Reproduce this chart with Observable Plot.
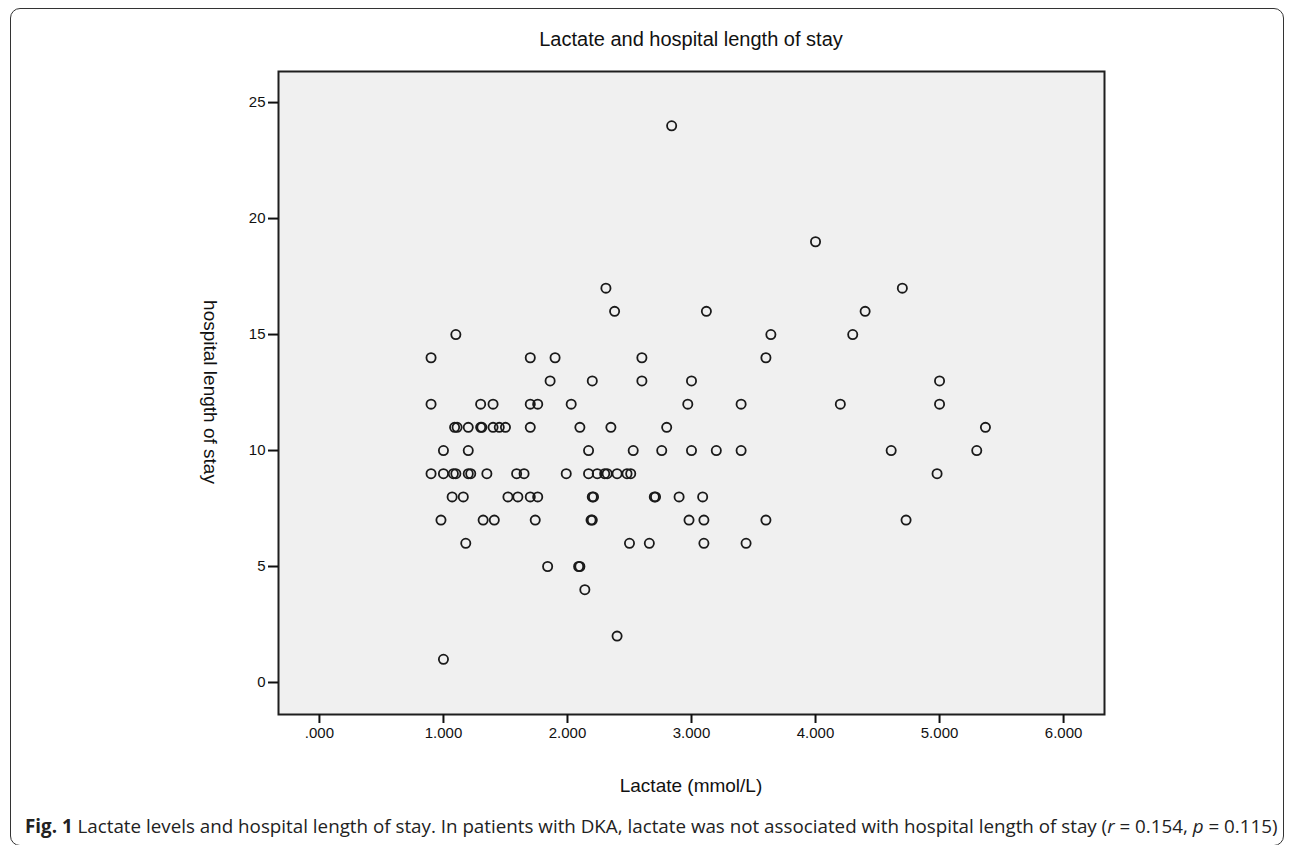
<!DOCTYPE html>
<html>
<head>
<meta charset="utf-8">
<script src="https://cdn.jsdelivr.net/npm/d3@7"></script>
<script src="https://cdn.jsdelivr.net/npm/@observablehq/plot@0.6"></script>
<style>
  html, body { margin: 0; padding: 0; background: #fff; }
  #fig { position: relative; width: 1293px; height: 845px; overflow: hidden; }
  #border { position: absolute; left: 10px; top: 8px; width: 1274px; height: 838px; border: 1.5px solid #333; border-radius: 10px; box-sizing: border-box; }
  #chart { position: absolute; left: 0; top: 0; }
  .lbl { position: absolute; font-family: "Liberation Sans", Arial, sans-serif; color: #111; white-space: nowrap; }
  #title { left: 0; width: 1382px; top: 28px; text-align: center; font-size: 20px; }
  #xlabel { left: 0; width: 1382px; top: 775px; text-align: center; font-size: 19px; }
  #ylabel { left: 210px; top: 392px; font-size: 19px; transform: translate(-50%, -50%) rotate(90deg); }
  #caption { position: absolute; left: 25px; top: 816px; line-height: 20px; font-family: "Open Sans", "Noto Sans", sans-serif; font-size: 18.8px; color: #222; white-space: nowrap; }
  #caption b { font-weight: 700; }
</style>
</head>
<body>
<div id="fig">
  <div id="border"></div>
  <div id="chart"></div>
  <div class="lbl" id="title">Lactate and hospital length of stay</div>
  <div class="lbl" id="xlabel">Lactate (mmol/L)</div>
  <div class="lbl" id="ylabel">hospital length of stay</div>
  <div id="caption"><b>Fig. 1</b> Lactate levels and hospital length of stay. In patients with DKA, lactate was not associated with hospital length of stay (<i>r</i> = 0.154, <i>p</i> = 0.115)</div>
</div>
<script>
// Lactate (mmol/L) values per patient
const lactate = [
  2.84,
  4.00,
  2.31, 4.70,
  2.38, 3.12, 4.40,
  1.10, 3.64, 4.30,
  0.90, 1.70, 1.90, 2.60, 3.60,
  1.86, 2.20, 2.60, 3.00, 5.00,
  0.90, 1.30, 1.40, 1.70, 1.76, 2.03, 2.97, 3.40, 4.20, 5.00,
  1.09, 1.11, 1.20, 1.30, 1.31, 1.40, 1.45, 1.50, 1.70, 2.10, 2.35, 2.80, 5.37,
  1.00, 1.20, 2.17, 2.53, 2.76, 3.00, 3.20, 3.40, 4.61, 5.30,
  0.90, 1.00, 1.08, 1.10, 1.20, 1.22, 1.35, 1.59, 1.65, 1.99, 2.17, 2.24, 2.30, 2.32, 2.40, 2.48, 2.51, 4.98,
  1.07, 1.16, 1.52, 1.60, 1.70, 1.76, 2.20, 2.21, 2.70, 2.71, 2.90, 3.09,
  0.98, 1.32, 1.41, 1.74, 2.19, 2.20, 2.98, 3.10, 3.60, 4.73,
  1.18, 2.50, 2.66, 3.10, 3.44,
  1.84, 2.09, 2.10,
  2.14,
  2.40,
  1.00
];
// Hospital length of stay (days) for the same patients
const stay = [
  24,
  19,
  17, 17,
  16, 16, 16,
  15, 15, 15,
  14, 14, 14, 14, 14,
  13, 13, 13, 13, 13,
  12, 12, 12, 12, 12, 12, 12, 12, 12, 12,
  11, 11, 11, 11, 11, 11, 11, 11, 11, 11, 11, 11, 11,
  10, 10, 10, 10, 10, 10, 10, 10, 10, 10,
  9, 9, 9, 9, 9, 9, 9, 9, 9, 9, 9, 9, 9, 9, 9, 9, 9, 9,
  8, 8, 8, 8, 8, 8, 8, 8, 8, 8, 8, 8,
  7, 7, 7, 7, 7, 7, 7, 7, 7, 7,
  6, 6, 6, 6, 6,
  5, 5, 5,
  4,
  2,
  1
];
const xTicks = [0, 1, 2, 3, 4, 5, 6];
const yTicks = [0, 5, 10, 15, 20, 25];

const data = lactate.map((v, i) => ({lactate: v, stay: stay[i]}));
const fmtX = d => d === 0 ? ".000" : d3.format(".3f")(d);

const chart = Plot.plot({
  width: 1293,
  height: 760,
  marginLeft: 278,
  marginRight: 189,
  marginTop: 71,
  marginBottom: 46,
  style: {fontFamily: "'Liberation Sans', Arial, sans-serif", fontSize: "15px", color: "#111", background: "transparent", overflow: "visible"},
  x: {domain: [-0.33, 6.33]},
  y: {domain: [-1.38, 26.34]},
  marks: [
    Plot.frame({fill: "#f0f0f0", stroke: null}),
    Plot.dot(data, {x: "lactate", y: "stay", r: 4.6, fill: "none", stroke: "#1a1a1a", strokeWidth: 1.8}),
    Plot.frame({stroke: "#1e1e1e", strokeWidth: 2}),
    Plot.axisX({ticks: xTicks, tickFormat: fmtX, tickSize: 9, tickPadding: 4, strokeWidth: 2, label: null, fontSize: 15}),
    Plot.axisY({ticks: yTicks, tickSize: 10, tickPadding: 3, strokeWidth: 2, label: null, fontSize: 15})
  ]
});
document.getElementById("chart").appendChild(chart);
</script>
</body>
</html>
